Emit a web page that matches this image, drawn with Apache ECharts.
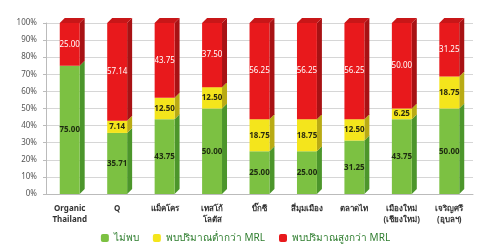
<!DOCTYPE html>
<html>
<head>
<meta charset="utf-8">
<script src="https://cdn.jsdelivr.net/npm/echarts@6/dist/echarts.min.js"></script>
<style>
  html, body { margin: 0; padding: 0; background: #ffffff; }
  #chart { width: 491px; height: 248px; }
</style>
</head>
<body>
<div id="chart"></div>
<script>
  var categories = ['Organic\nThailand', 'Q', 'แม็คโคร', 'เทสโก้\nโลตัส', 'บิ๊กซี', 'สี่มุมเมือง', 'ตลาดไท', 'เมืองใหม่\n(เชียงใหม่)', 'เจริญศรี\n(อุบลฯ)'];
  var notFound = [75.00, 35.71, 43.75, 50.00, 25.00, 25.00, 31.25, 43.75, 50.00];
  var belowMRL = [0, 7.14, 12.50, 12.50, 18.75, 18.75, 12.50, 6.25, 18.75];
  var aboveMRL = [25.00, 57.14, 43.75, 37.50, 56.25, 56.25, 56.25, 50.00, 31.25];
  var seriesNames = ['ไม่พบ', 'พบปริมาณต่ำกว่า MRL', 'พบปริมาณสูงกว่า MRL'];
  var yTicks = [0, 10, 20, 30, 40, 50, 60, 70, 80, 90, 100];

  var fronts = ['#7cc142', '#f4e51c', '#e8191c'];
  var sides = ['#4c962b', '#b9ab14', '#a81214'];
  var tops = ['#9fd46c', '#f8ee6a', '#c81618'];
  var stacks = [notFound, belowMRL, aboveMRL];

  var chartDom = document.getElementById('chart');
  var myChart = echarts.init(chartDom);
  var font = 'Noto Sans, DejaVu Sans, sans-serif';
  var depth = 5;

  // side and top faces of each segment, drawn from the stacked values
  function depthItem(params, api) {
    var i = api.value(0);
    var out = [];
    var base = 0;
    for (var s = 0; s < stacks.length; s++) {
      var v = stacks[s][i];
      if (v > 0) {
        var bw = api.size([1, 0])[0] * 0.42;
        var p0 = api.coord([i, base]);
        var p1 = api.coord([i, base + v]);
        var xr = p0[0] + bw / 2;
        var xl = p0[0] - bw / 2;
        out.push({
          type: 'polygon',
          shape: { points: [[xr, p0[1]], [xr + depth, p0[1] - depth], [xr + depth, p1[1] - depth], [xr, p1[1]]] },
          style: { fill: sides[s] }
        });
        if (base + v >= 99.9) {
          out.push({
            type: 'polygon',
            shape: { points: [[xl, p1[1]], [xl + depth, p1[1] - depth], [xr + depth, p1[1] - depth], [xr, p1[1]]] },
            style: { fill: tops[s] }
          });
        }
      }
      base += v;
    }
    return { type: 'group', children: out };
  }

  function labelFmt(p) {
    return p.value > 0 ? p.value.toFixed(2) : '';
  }

  var option = {
    animation: false,
    textStyle: { fontFamily: font },
    legend: {
      data: seriesNames,
      bottom: 0,
      left: 'center',
      itemWidth: 8,
      itemHeight: 8,
      itemGap: 14,
      textStyle: { fontSize: 10, color: '#2e7d2e', fontFamily: font }
    },
    grid: { left: 46, right: 18, top: 23, bottom: 54 },
    xAxis: {
      type: 'category',
      data: categories,
      axisTick: { show: false },
      axisLine: { lineStyle: { color: '#bbbbbb' } },
      axisLabel: { fontSize: 8, fontWeight: 'bold', color: '#333333', lineHeight: 11, margin: 9, interval: 0 }
    },
    yAxis: {
      type: 'value',
      min: 0,
      max: 100,
      interval: 10,
      axisLine: { show: true, lineStyle: { color: '#bbbbbb' } },
      axisTick: { show: true, length: 3, lineStyle: { color: '#bbbbbb' } },
      splitLine: { lineStyle: { color: '#d6d6d6' } },
      axisLabel: {
        fontSize: 8,
        color: '#555555',
        margin: 9,
        formatter: function (v) { return yTicks.indexOf(v) >= 0 ? v + '%' : ''; }
      }
    },
    series: [
      {
        name: seriesNames[0], type: 'bar', stack: 'total', barWidth: '42%',
        data: notFound, itemStyle: { color: fronts[0] },
        label: { show: true, formatter: labelFmt, fontSize: 8, fontWeight: 'bold', color: '#1d2a10' }
      },
      {
        name: seriesNames[1], type: 'bar', stack: 'total', barWidth: '42%',
        data: belowMRL, itemStyle: { color: fronts[1] },
        label: { show: true, formatter: labelFmt, fontSize: 8, fontWeight: 'bold', color: '#2a2a10' }
      },
      {
        name: seriesNames[2], type: 'bar', stack: 'total', barWidth: '42%',
        data: aboveMRL, itemStyle: { color: fronts[2] },
        label: { show: true, formatter: labelFmt, fontSize: 8, color: '#ffffff' }
      },
      {
        type: 'custom',
        renderItem: depthItem,
        data: categories.map(function (c, i) { return [i]; }),
        silent: true,
        z: 1
      }
    ]
  };
  option && myChart.setOption(option);
</script>
</body>
</html>
